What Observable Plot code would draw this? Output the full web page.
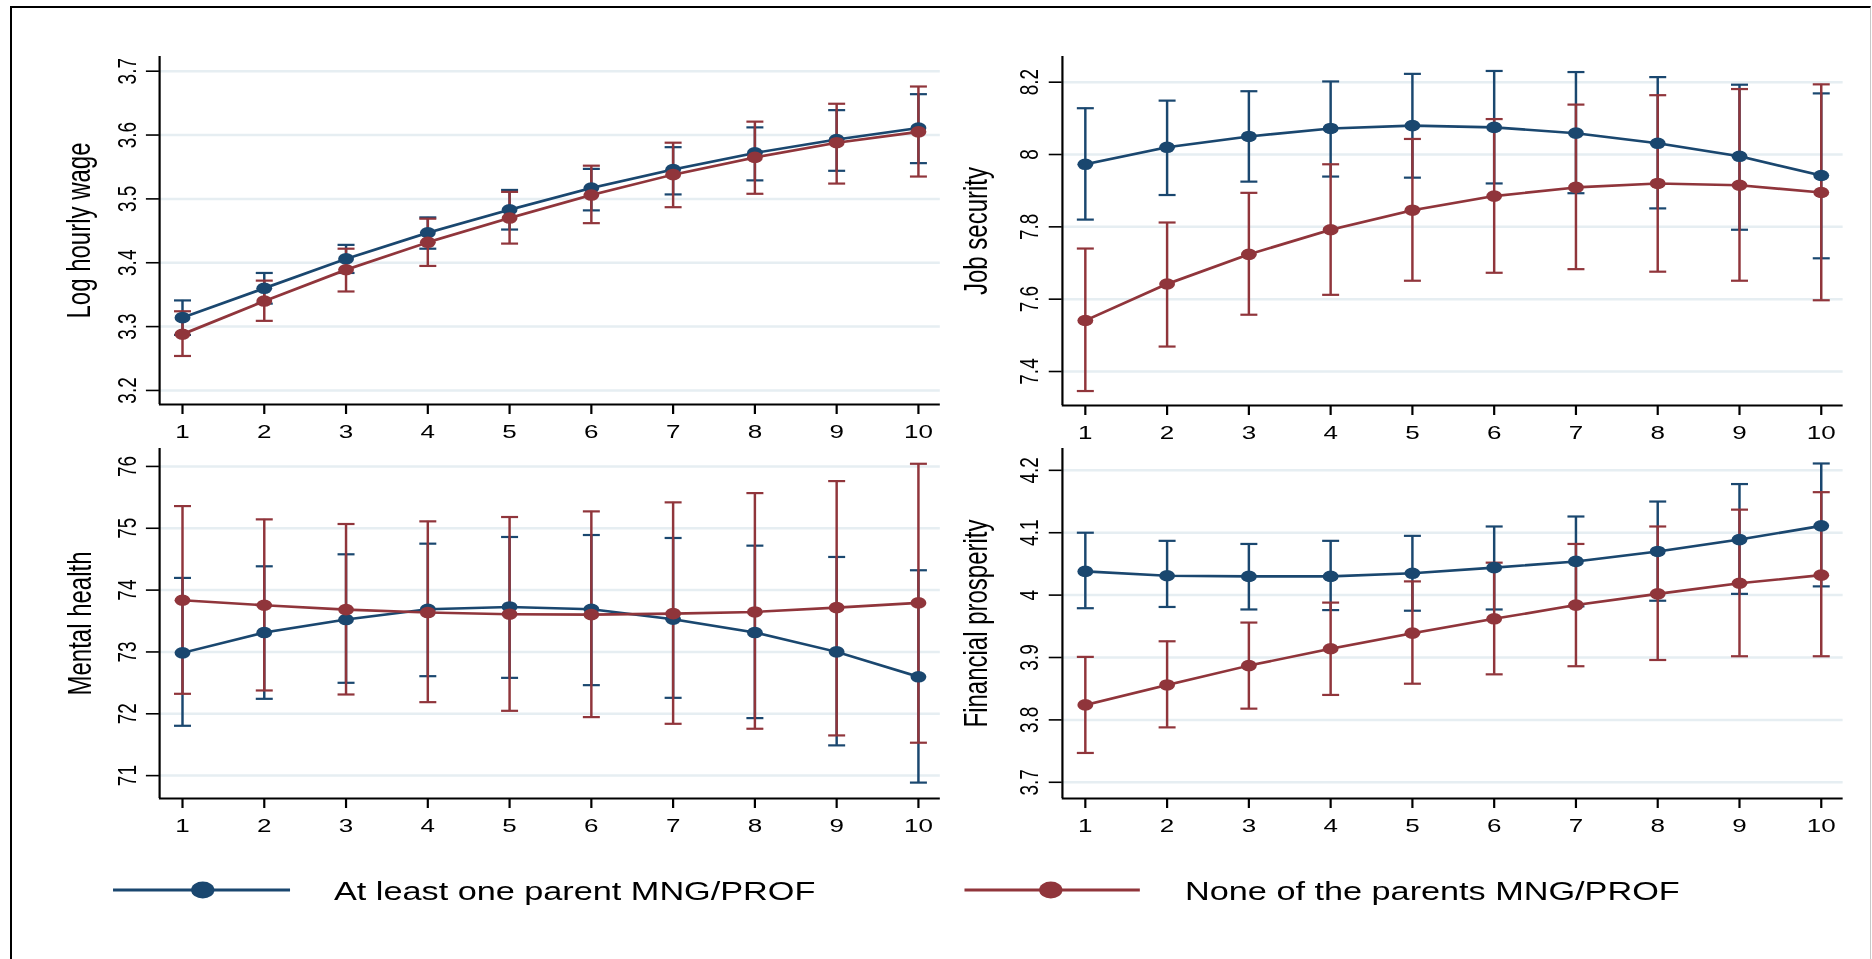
<!DOCTYPE html>
<html><head><meta charset="utf-8">
<script src="https://cdn.jsdelivr.net/npm/d3@7"></script>
<script src="https://cdn.jsdelivr.net/npm/@observablehq/plot@0.6"></script>
<style>
html,body{margin:0;padding:0;background:#fff;width:1872px;height:959px;overflow:hidden;}
#frame{position:absolute;left:10px;top:6px;width:1861px;height:1000px;border-left:2px solid #000;border-top:2px solid #000;border-right:1px solid #c8c8c8;box-sizing:border-box;}
#stage{position:absolute;left:0;top:0;height:959px;transform-origin:0 0;}
.panel{position:absolute;}
</style></head><body>
<div id="frame"></div>
<div id="stage"></div>
<script>
// ---------- data ----------
const waves = [1, 2, 3, 4, 5, 6, 7, 8, 9, 10];
const xTickLabels = ["1", "2", "3", "4", "5", "6", "7", "8", "9", "10"];
const groups = ["At least one parent MNG/PROF", "None of the parents MNG/PROF"];

// Log hourly wage
const wageTicks = [3.2, 3.3, 3.4, 3.5, 3.6, 3.7];
const wageTickLabels = ["3.2", "3.3", "3.4", "3.5", "3.6", "3.7"];
const wageA = [3.314, 3.360, 3.406, 3.447, 3.483, 3.517, 3.546, 3.572, 3.593, 3.611];
const wageALo = [3.287, 3.336, 3.384, 3.422, 3.452, 3.482, 3.507, 3.529, 3.544, 3.556];
const wageAHi = [3.341, 3.384, 3.428, 3.471, 3.514, 3.547, 3.581, 3.612, 3.639, 3.664];
const wageB = [3.288, 3.340, 3.389, 3.432, 3.470, 3.506, 3.538, 3.565, 3.588, 3.605];
const wageBLo = [3.254, 3.309, 3.355, 3.395, 3.430, 3.462, 3.487, 3.508, 3.524, 3.535];
const wageBHi = [3.324, 3.372, 3.422, 3.469, 3.511, 3.552, 3.588, 3.621, 3.649, 3.676];

// Job security
const jobTicks = [7.4, 7.6, 7.8, 8, 8.2];
const jobTickLabels = ["7.4", "7.6", "7.8", "8", "8.2"];
const jobA = [7.973, 8.020, 8.050, 8.072, 8.080, 8.075, 8.059, 8.031, 7.995, 7.942];
const jobALo = [7.820, 7.888, 7.925, 7.939, 7.936, 7.920, 7.893, 7.851, 7.792, 7.713];
const jobAHi = [8.128, 8.149, 8.175, 8.202, 8.223, 8.231, 8.228, 8.214, 8.193, 8.169];
const jobB = [7.541, 7.642, 7.724, 7.792, 7.846, 7.885, 7.909, 7.920, 7.915, 7.895];
const jobBLo = [7.346, 7.469, 7.557, 7.612, 7.651, 7.673, 7.683, 7.676, 7.651, 7.597];
const jobBHi = [7.740, 7.812, 7.894, 7.973, 8.043, 8.098, 8.138, 8.164, 8.181, 8.194];

// Mental health
const mentTicks = [71, 72, 73, 74, 75, 76];
const mentTickLabels = ["71", "72", "73", "74", "75", "76"];
const mentA = [72.985, 73.314, 73.524, 73.690, 73.728, 73.690, 73.529, 73.314, 73.001, 72.598];
const mentALo = [71.806, 72.242, 72.501, 72.608, 72.581, 72.463, 72.258, 71.930, 71.489, 70.887];
const mentAHi = [74.197, 74.385, 74.579, 74.751, 74.859, 74.891, 74.843, 74.719, 74.536, 74.321];
const mentB = [73.836, 73.755, 73.685, 73.637, 73.610, 73.604, 73.620, 73.647, 73.717, 73.793];
const mentBLo = [72.323, 72.377, 72.312, 72.188, 72.048, 71.946, 71.838, 71.758, 71.650, 71.532];
const mentBHi = [75.359, 75.144, 75.069, 75.112, 75.182, 75.273, 75.419, 75.569, 75.763, 76.043];

// Financial prosperity
const finTicks = [3.7, 3.8, 3.9, 4, 4.1, 4.2];
const finTickLabels = ["3.7", "3.8", "3.9", "4", "4.1", "4.2"];
const finA = [4.038, 4.031, 4.030, 4.030, 4.035, 4.044, 4.054, 4.070, 4.089, 4.111];
const finALo = [3.979, 3.981, 3.977, 3.976, 3.975, 3.977, 3.982, 3.991, 4.002, 4.014];
const finAHi = [4.100, 4.087, 4.082, 4.087, 4.095, 4.110, 4.126, 4.150, 4.178, 4.211];
const finB = [3.824, 3.856, 3.887, 3.914, 3.939, 3.962, 3.984, 4.002, 4.019, 4.032];
const finBLo = [3.747, 3.788, 3.818, 3.840, 3.858, 3.873, 3.886, 3.896, 3.902, 3.902];
const finBHi = [3.901, 3.926, 3.956, 3.988, 4.022, 4.052, 4.082, 4.110, 4.137, 4.165];

// ---------- layout & style ----------
const S = 1.37;                 // horizontal stretch of the original graph
const stage = document.getElementById("stage");
stage.style.width = (1872 / S) + "px";
stage.style.transform = `scaleX(${S})`;

const colors = ["#1a476f", "#90353b"];
const gridColor = "#e6eef2";
const font = "'Liberation Sans', Arial, Helvetica, sans-serif";
const xDomain = [0.72, 10.27];
const FW = 570, ML = 90, MR = 6, MT = 10, MB = 50;

const capSymbol = {
  draw(ctx, size) {
    const r = Math.sqrt(size / Math.PI);
    ctx.moveTo(-r, 0);
    ctx.lineTo(r, 0);
  }
};

function rows(mean, lo, hi, g) {
  return waves.map((w, i) => ({wave: w, group: groups[g], mean: mean[i], lo: lo[i], hi: hi[i]}));
}

const panels = [
  {title: "Log hourly wage", fx: 159, fy: 56, fh: 348, yDomain: [3.178, 3.723], ticks: wageTicks, labels: wageTickLabels, titleDx: 51,
   series: [rows(wageA, wageALo, wageAHi, 0), rows(wageB, wageBLo, wageBHi, 1)]},
  {title: "Job security", fx: 1062, fy: 56, fh: 349, yDomain: [7.306, 8.271], ticks: jobTicks, labels: jobTickLabels, titleDx: 55,
   series: [rows(jobA, jobALo, jobAHi, 0), rows(jobB, jobBLo, jobBHi, 1)]},
  {title: "Mental health", fx: 159, fy: 448, fh: 350, yDomain: [70.63, 76.29], ticks: mentTicks, labels: mentTickLabels, titleDx: 50,
   series: [rows(mentA, mentALo, mentAHi, 0), rows(mentB, mentBLo, mentBHi, 1)]},
  {title: "Financial prosperity", fx: 1062, fy: 448, fh: 350, yDomain: [3.674, 4.235], ticks: finTicks, labels: finTickLabels, titleDx: 55,
   series: [rows(finA, finALo, finAHi, 0), rows(finB, finBLo, finBHi, 1)]}
];

for (const p of panels) {
  const marks = [
    Plot.gridY(p.ticks, {stroke: gridColor, strokeOpacity: 1, strokeWidth: 2.5}),
    Plot.ruleY([p.yDomain[0]], {stroke: "#000", strokeWidth: 2}),
    Plot.ruleX([xDomain[0]], {stroke: "#000", strokeWidth: 1.6}),
    Plot.axisY(p.ticks, {tickSize: 9.5, tickPadding: 8, tickRotate: -90, label: null,
      tickFormat: d => p.labels[p.ticks.indexOf(d)], fontSize: 19, strokeWidth: 1.6}),
    Plot.axisX(waves, {tickSize: 10, tickPadding: 10, label: null,
      tickFormat: d => xTickLabels[waves.indexOf(d)], fontSize: 19, strokeWidth: 1.6}),
    Plot.text([p.title], {text: d => d, frameAnchor: "left", rotate: -90, dx: -p.titleDx,
      textAnchor: "middle", lineAnchor: "bottom", fontSize: 24, fill: "#000"})
  ];
  p.series.forEach((r, k) => {
    marks.push(
      Plot.ruleX(r, {x: "wave", y1: "lo", y2: "hi", stroke: colors[k], strokeWidth: 1.8}),
      Plot.dot(r, {x: "wave", y: "lo", symbol: capSymbol, r: 6.2, stroke: colors[k], fill: "none", strokeWidth: 2.2}),
      Plot.dot(r, {x: "wave", y: "hi", symbol: capSymbol, r: 6.2, stroke: colors[k], fill: "none", strokeWidth: 2.2})
    );
  });
  p.series.forEach((r, k) => {
    marks.push(
      Plot.line(r, {x: "wave", y: "mean", stroke: colors[k], strokeWidth: 2.6}),
      Plot.dot(r, {x: "wave", y: "mean", r: 5.8, fill: colors[k], stroke: "none"})
    );
  });
  const svg = Plot.plot({
    width: ML + FW + MR,
    height: MT + p.fh + MB,
    marginLeft: ML, marginRight: MR, marginTop: MT, marginBottom: MB,
    style: {fontFamily: font, fontSize: "19px", color: "#000", background: "transparent", overflow: "visible"},
    x: {domain: xDomain, axis: null},
    y: {domain: p.yDomain, axis: null},
    marks
  });
  svg.classList.add("panel");
  svg.style.left = (p.fx / S - ML) + "px";
  svg.style.top = (p.fy - MT) + "px";
  svg.style.maxWidth = "none";
  stage.appendChild(svg);
}

// ---------- legend ----------
const legendItems = [
  {label: groups[0], color: colors[0], x1: 82.5, x2: 211.7, mx: 148, tx: 243.8},
  {label: groups[1], color: colors[1], x1: 704, x2: 832, mx: 767, tx: 865}
];
const NS = "http://www.w3.org/2000/svg";
const leg = document.createElementNS(NS, "svg");
leg.setAttribute("width", 1872 / S);
leg.setAttribute("height", 60);
leg.style.position = "absolute";
leg.style.left = "0px";
leg.style.top = "860px";
leg.style.overflow = "visible";
for (const it of legendItems) {
  const ln = document.createElementNS(NS, "line");
  ln.setAttribute("x1", it.x1); ln.setAttribute("x2", it.x2);
  ln.setAttribute("y1", 30); ln.setAttribute("y2", 30);
  ln.setAttribute("stroke", it.color); ln.setAttribute("stroke-width", 3);
  leg.appendChild(ln);
  const c = document.createElementNS(NS, "circle");
  c.setAttribute("cx", it.mx); c.setAttribute("cy", 30); c.setAttribute("r", 8.5);
  c.setAttribute("fill", it.color);
  leg.appendChild(c);
  const t = document.createElementNS(NS, "text");
  t.setAttribute("x", it.tx); t.setAttribute("y", 40);
  t.setAttribute("font-family", font); t.setAttribute("font-size", 25);
  t.setAttribute("fill", "#000");
  t.textContent = it.label;
  leg.appendChild(t);
}
stage.appendChild(leg);
</script></body></html>
